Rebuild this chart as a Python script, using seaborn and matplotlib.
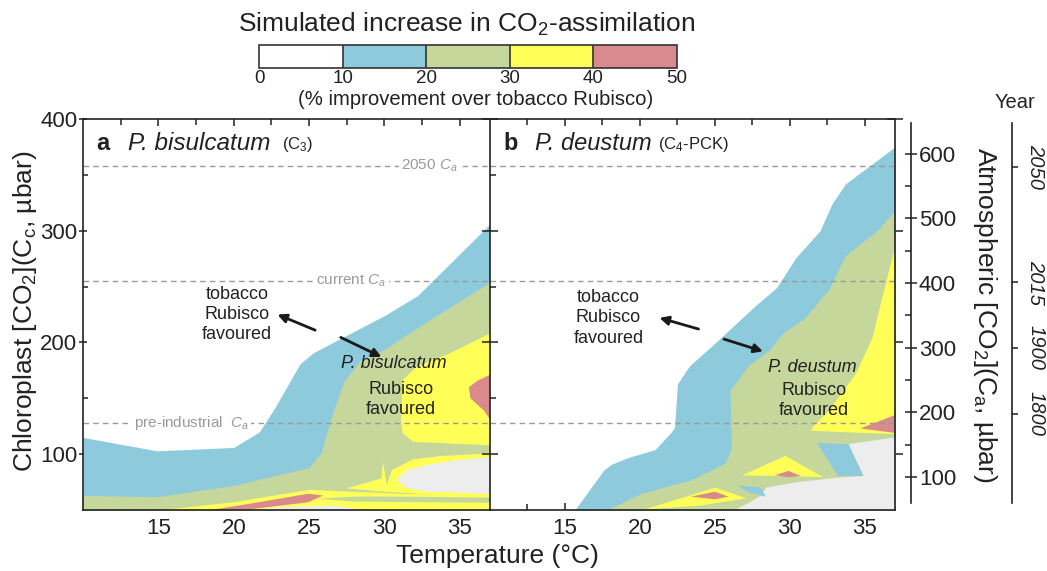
import numpy as np
import matplotlib
matplotlib.use('Agg')
import matplotlib.pyplot as plt
import seaborn as sns
from matplotlib.colors import ListedColormap, BoundaryNorm
from matplotlib.cm import ScalarMappable

sns.set_theme(style='ticks')
plt.rcParams['font.family'] = ['Liberation Sans', 'DejaVu Sans']
plt.rcParams['mathtext.fontset'] = 'custom'
plt.rcParams['mathtext.rm'] = 'Liberation Sans'
plt.rcParams['mathtext.it'] = 'Liberation Sans:italic'
plt.rcParams['axes.linewidth'] = 1.2

# colour bands (% improvement over tobacco Rubisco)
levels = [0, 10, 20, 30, 40, 50]
band_colors = ['#ffffff', '#8dcbdc', '#c6d79c', '#ffff57', '#d98a8c']
gray = '#ededed'

# ---- panel a : P. bisulcatum (T in degC, Cc in ubar) ----
a_blue_T = [10, 14.9, 20, 21.7, 22.7, 24.4, 25.3, 30, 32.2, 37]
a_blue_C = [115, 103, 106, 120, 141, 181, 191, 224, 242, 306]
a_green_T = [10, 15, 20, 25, 25.8, 26.4, 27.3, 28.4, 29.9, 33.2, 37]
a_green_C = [63, 62, 72, 88, 101, 130, 165, 184, 193, 222, 254]
a_yel1_T = [37, 34.3, 32.1, 31.2, 31.1, 31.2, 31.9, 37]
a_yel1_C = [208, 190, 178, 166, 130, 119, 111, 108]
a_red1_T = [37, 36.2, 35.6, 35.7, 36.6, 37]
a_red1_C = [171, 166, 160, 150, 139, 131]
a_yel2_T = [27.5, 29.8, 29.9, 30.15, 30.5, 31.9, 33.7, 37, 37, 33.7, 29.9]
a_yel2_C = [69.4, 78.3, 93.2, 72.4, 85.8, 95.3, 98.3, 100.6, 62, 63.4, 66.4]
a_gray1_T = [30.8, 31.5, 32.8, 34.8, 37, 37, 34.8, 32.8, 31.5]
a_gray1_C = [76.8, 85.8, 90.2, 94.7, 97.1, 64.3, 65.5, 66.4, 69.4]
a_yel_low_T = [14.9, 20, 23.3, 25, 27.5, 31, 37]
a_yel_low_C = [50, 57.4, 64.8, 68.5, 67, 65, 63]
a_grn_strip_T = [25.5, 28, 31, 37]
a_grn_strip_lo = [60.5, 58, 57.5, 57]
a_grn_strip_hi = [60.5, 62.5, 62.5, 61.5]
a_gray_low_T = [20.5, 23, 26.5, 29]
a_gray_low_C = [50, 53, 54.5, 50]
a_red_low_T = [18.2, 21, 24.9, 25.9]
a_red_low_hi = [50, 56, 65, 63.4]
a_red_low_lo = [50, 51, 57.4, 63.4]

# ---- panel b : P. deustum ----
b_blue_T = [15.65, 17.6, 18.1, 19.2, 21.0, 22.1, 22.3, 22.5, 23.3, 24.8, 27.7,
            29.1, 30.4, 32.0, 32.8, 33.7, 35.5, 37]
b_blue_C = [50, 86, 91, 97, 104, 120, 124, 163, 179, 197, 233,
            249, 276, 300, 324, 342, 360, 375]
b_green_T = [17.8, 20.1, 23.4, 25.7, 26.1, 26.0, 27.2, 28.6, 29.5, 31.0, 32.6,
             33.7, 35.8, 37]
b_green_C = [50, 65, 77, 92, 106, 157, 179, 193, 208, 222, 248, 278, 300, 318]
b_yel1_T = [37, 36.1, 35.5, 34.4, 32.6, 31.5, 31.4, 33.0, 37]
b_yel1_C = [285, 237, 204, 172, 139, 124, 121, 120, 118]
b_red1_T = [34.7, 37, 37]
b_red1_C = [123, 135, 119]
b_gray_T = [26.3, 27.2, 28.1, 28.4, 30.5, 33.2, 34.9, 33.9, 37, 37]
b_gray_C = [50, 56, 63, 70, 75, 79, 80.5, 109, 115, 50]
b_spike_T = [31.8, 33.9, 34.9, 33.2]
b_spike_C = [110, 109, 80.5, 80.5]
b_sliver_T = [26.5, 28.0, 28.4, 27.2]
b_sliver_C = [72, 70.2, 62, 66]
b_yel2_T = [26.8, 29.7, 32.2, 29.5]
b_yel2_C = [81, 98.5, 79.5, 80.5]
b_red2_T = [29.0, 29.9, 30.7, 29.9]
b_red2_C = [81.2, 85, 80.5, 79.3]
b_yel3_T = [20.3, 25.0, 27.1, 24.0]
b_yel3_C = [50.5, 70, 60.5, 54]
b_red3_T = [23.4, 25.0, 25.9, 25.0]
b_red3_C = [62, 66.4, 62, 59.5]

# reference CO2 levels (chloroplast units)
ca_lines = [358, 255, 128]
ca_names = ['2050 $C_a$', 'current $C_a$', 'pre-industrial  $C_a$']
ca_label_T = [33.0, 27.8, 17.2]

ca_ticks = [100, 200, 300, 400, 500, 600]
year_ca = [580, 401, 300, 198]
year_labels = ['2050', '2015', '1900', '1800']

xmin, xmax, ymin, ymax = 10, 37, 50, 400
ink = '#222222'


def cc2ca(c):
    return 1.728 * np.asarray(c) - 37.4


def ca2cc(a):
    return (np.asarray(a) + 37.4) / 1.728


def patch(ax, T, C, col):
    ax.fill(T, C, color=col, lw=0, zorder=2)


def band(ax, T, hi, col, lo=None):
    if lo is None:
        lo = np.full(len(T), ymin)
    ax.fill_between(T, lo, hi, color=col, lw=0, zorder=2)


fig = plt.figure(figsize=(10.47, 5.71), dpi=100)
ax_a = fig.add_axes([0.0793, 0.1068, 0.3887, 0.6848])
ax_b = fig.add_axes([0.468, 0.1068, 0.3868, 0.6848])

blue, green, yel, red = band_colors[1:]

# panel a
band(ax_a, a_blue_T, a_blue_C, blue)
band(ax_a, a_green_T, a_green_C, green)
patch(ax_a, a_yel1_T, a_yel1_C, yel)
patch(ax_a, a_red1_T, a_red1_C, red)
band(ax_a, a_yel_low_T, a_yel_low_C, yel)
band(ax_a, a_grn_strip_T, a_grn_strip_hi, green, a_grn_strip_lo)
patch(ax_a, a_yel2_T, a_yel2_C, yel)
patch(ax_a, a_gray1_T, a_gray1_C, gray)
band(ax_a, a_gray_low_T, a_gray_low_C, gray)
band(ax_a, a_red_low_T, a_red_low_hi, red, a_red_low_lo)

# panel b
band(ax_b, b_blue_T, b_blue_C, blue)
band(ax_b, b_green_T, b_green_C, green)
patch(ax_b, b_yel1_T, b_yel1_C, yel)
patch(ax_b, b_red1_T, b_red1_C, red)
patch(ax_b, b_gray_T, b_gray_C, gray)
patch(ax_b, b_spike_T, b_spike_C, blue)
patch(ax_b, b_sliver_T, b_sliver_C, blue)
patch(ax_b, b_yel2_T, b_yel2_C, yel)
patch(ax_b, b_red2_T, b_red2_C, red)
patch(ax_b, b_yel3_T, b_yel3_C, yel)
patch(ax_b, b_red3_T, b_red3_C, red)

for ax in (ax_a, ax_b):
    for c in ca_lines:
        ax.axhline(c, color='#9a9a9a', lw=1, ls=(0, (4, 3)), zorder=3)
    ax.set_xlim(xmin, xmax)
    ax.set_ylim(ymin, ymax)
    ax.set_xticks([15, 20, 25, 30, 35])
    ax.set_xticks([12.5, 17.5, 22.5, 27.5, 32.5], minor=True)
    ax.set_yticks([100, 200, 300, 400])
    ax.set_yticks([150, 250, 350], minor=True)
    ax.tick_params(axis='x', which='both', direction='in', top=True,
                   width=1.1, colors=ink, labelsize=16, pad=6)
    ax.tick_params(axis='x', which='major', length=5)
    ax.tick_params(axis='x', which='minor', length=4)
    for s in ax.spines.values():
        s.set_color(ink)
        s.set_zorder(5)

for c, name, t in zip(ca_lines, ca_names, ca_label_T):
    ax_a.text(t, c, name, color='#9a9a9a', fontsize=11, ha='center', va='center',
              zorder=4, bbox=dict(fc='white', ec='none', pad=1.5))

ax_a.tick_params(axis='y', which='major', direction='inout', length=6, width=1.1,
                 colors=ink, labelsize=16, pad=1, right=False)
ax_a.tick_params(axis='y', which='minor', direction='in', length=3.5, width=1.1)
ax_a.spines['right'].set_visible(False)

ax_b.tick_params(axis='y', which='major', direction='inout', length=11, width=1.1,
                 colors=ink, labelleft=False, right=True)
ax_b.tick_params(axis='y', which='minor', direction='in', length=4, width=1.1,
                 right=True)

# panel titles
ax_a.text(10.9, 378, 'a', fontsize=17, fontweight='bold', color=ink, va='center', zorder=4)
ax_a.text(13.0, 378, 'P. bisulcatum', fontsize=17.5, style='italic', color=ink,
          va='center', zorder=4)
ax_a.text(23.2, 377, '(C$_3$)', fontsize=12, color=ink, va='center', zorder=4)
ax_b.text(10.9, 378, 'b', fontsize=17, fontweight='bold', color=ink, va='center', zorder=4)
ax_b.text(13.0, 378, 'P. deustum', fontsize=17, style='italic', color=ink,
          va='center', zorder=4)
ax_b.text(21.2, 377, '(C$_4$-PCK)', fontsize=12, color=ink, va='center', zorder=4)

# annotations
arrow = dict(arrowstyle='-|>', lw=2, color='k', mutation_scale=13, shrinkA=0, shrinkB=0)
ax_a.text(20.2, 225, 'tobacco\nRubisco\nfavoured', fontsize=13, color=ink,
          ha='center', va='center', linespacing=1.25, zorder=4)
ax_a.text(30.6, 181, 'P. bisulcatum', fontsize=13, style='italic', color=ink,
          ha='center', va='center', zorder=4)
ax_a.text(31.1, 149, 'Rubisco\nfavoured', fontsize=13, color=ink,
          ha='center', va='center', linespacing=1.25, zorder=4)
ax_a.annotate('', xy=(22.9, 225), xytext=(25.4, 211), arrowprops=arrow, zorder=4)
ax_a.annotate('', xy=(29.8, 187), xytext=(27.1, 204.5), arrowprops=arrow, zorder=4)

ax_b.text(17.9, 222, 'tobacco\nRubisco\nfavoured', fontsize=13, color=ink,
          ha='center', va='center', linespacing=1.25, zorder=4)
ax_b.text(31.5, 178, 'P. deustum', fontsize=13, style='italic', color=ink,
          ha='center', va='center', zorder=4)
ax_b.text(31.6, 148, 'Rubisco\nfavoured', fontsize=13, color=ink,
          ha='center', va='center', linespacing=1.25, zorder=4)
ax_b.annotate('', xy=(21.3, 222), xytext=(23.9, 212), arrowprops=arrow, zorder=4)
ax_b.annotate('', xy=(28.2, 192), xytext=(25.6, 203), arrowprops=arrow, zorder=4)

# atmospheric CO2 axis
sec = ax_b.secondary_yaxis(1.04, functions=(cc2ca, ca2cc))
sec.set_yticks(ca_ticks)
sec.set_yticks([150, 250, 350, 450, 550], minor=True)
sec.tick_params(axis='y', which='major', direction='inout', length=9, width=1.1,
                colors=ink, labelsize=16, pad=1)
sec.tick_params(axis='y', which='minor', direction='in', length=4.5, width=1.1)
sec.spines['right'].set_bounds(60, 648)
sec.spines['right'].set_color(ink)

yr = ax_b.secondary_yaxis(1.29, functions=(cc2ca, ca2cc))
yr.set_yticks(year_ca)
yr.set_yticklabels(year_labels, rotation=-90, style='italic', va='center')
yr.tick_params(axis='y', which='major', direction='out', length=4, width=1.1,
               colors=ink, labelsize=14.5, pad=6)
yr.tick_params(axis='y', which='minor', length=0)
yr.spines['right'].set_bounds(60, 648)
yr.spines['right'].set_color(ink)

fig.text(0.969, 0.820, 'Year', fontsize=14.5, color=ink, ha='center', va='center')
fig.text(0.941, 0.448, 'Atmospheric [CO$_2$](C$_\\mathrm{a}$, µbar)', fontsize=19,
         color=ink, rotation=-90, ha='center', va='center')
fig.text(0.024, 0.455, 'Chloroplast [CO$_2$](C$_\\mathrm{c}$, µbar)', fontsize=19,
         color=ink, rotation=90, ha='center', va='center')
fig.text(0.475, 0.026, 'Temperature (°C)', fontsize=19, color=ink,
         ha='center', va='center')

# colour key
cax = fig.add_axes([0.2474, 0.881, 0.3992, 0.0403])
cmap = ListedColormap(band_colors)
norm = BoundaryNorm(levels, cmap.N)
cb = fig.colorbar(ScalarMappable(norm=norm, cmap=cmap), cax=cax,
                  orientation='horizontal', drawedges=True)
cb.set_ticks(levels)
cb.ax.tick_params(length=0, labelsize=13.5, pad=1.5, colors=ink)
cb.outline.set_linewidth(1.2)
cb.outline.set_edgecolor('#333333')
cb.dividers.set_color('#333333')
cb.dividers.set_linewidth(1.2)
fig.text(0.446, 0.958, 'Simulated increase in CO$_2$-assimilation', fontsize=19,
         color=ink, ha='center', va='center')
fig.text(0.454, 0.826, '(% improvement over tobacco Rubisco)', fontsize=14.6,
         color=ink, ha='center', va='center')

fig.savefig('out.png', dpi=100)
